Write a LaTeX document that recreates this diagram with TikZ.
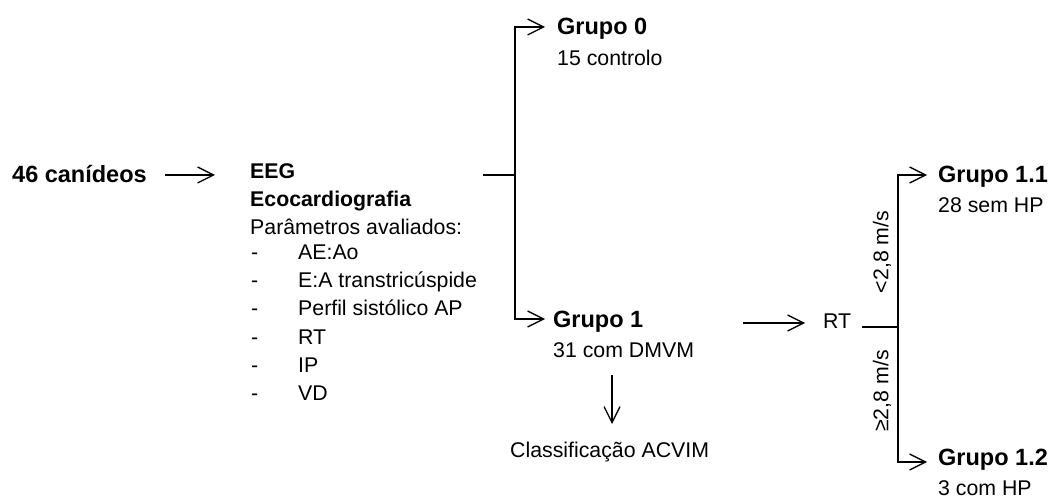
\documentclass[tikz,border=0pt]{standalone}
\usepackage{fontspec}
\setmainfont{Liberation Sans}
\usetikzlibrary{arrows.meta}
\begin{document}
\begin{tikzpicture}[x=1pt,y=-1pt,
  txt/.style={anchor=base west, inner sep=0pt, font=\fontsize{21.3}{25}\selectfont},
  bld/.style={txt, font=\fontsize{21.3}{25}\selectfont\bfseries},
  big/.style={txt, font=\fontsize{23.5}{28}\selectfont\bfseries},
  rot/.style={inner sep=0pt, rotate=90, font=\fontsize{21.3}{25}\selectfont},
  ln/.style={line width=1.3pt},
  arr/.style={ln, -{Straight Barb[length=16pt,width=16pt,line width=1.3pt]}}]
\useasboundingbox (0,0) rectangle (1051,502);
% texts
\node[big] (can) at (12,183) {46 canídeos};
\node[bld] (eeg) at (250,179) {EEG};
\node[bld] (eco) at (250,207) {Ecocardiografia};
\node[txt] (par) at (250,235) {Parâmetros avaliados:};
\node[txt] (d1) at (251,260) {-};   \node[txt] (p1) at (298,260) {AE:Ao};
\node[txt] (d2) at (251,288) {-};   \node[txt] (p2) at (298,288) {E:A transtricúspide};
\node[txt] (d3) at (251,316) {-};   \node[txt] (p3) at (298,316) {Perfil sistólico AP};
\node[txt] (d4) at (251,344) {-};   \node[txt] (p4) at (298,344) {RT};
\node[txt] (d5) at (251,372.5) {-}; \node[txt] (p5) at (298,372.5) {IP};
\node[txt] (d6) at (251,400.5) {-}; \node[txt] (p6) at (298,400.5) {VD};
\node[big] (g0) at (557,35) {Grupo 0};
\node[txt] (g0b) at (557,66) {15 controlo};
\node[big] (g1) at (553,327) {Grupo 1};
\node[txt] (g1b) at (553,357) {31 com DMVM};
\node[txt] (acv) at (510,457) {Classificação ACVIM};
\node[txt] (rt) at (823,328) {RT};
\node[big] (g11) at (938,183) {Grupo 1.1};
\node[txt] (g11b) at (938,213) {28 sem HP};
\node[big] (g12) at (938,465) {Grupo 1.2};
\node[txt] (g12b) at (938,495) {3 com HP};
\node[rot] (lt) at (882,252) {<2,8 m/s};
\node[rot] (ge) at (882,391) {≥2,8 m/s};
% connector points
\coordinate (a1s) at (165,175); \coordinate (a1e) at (215,175);
\coordinate (b0) at (483,175);  \coordinate (j1) at (515,175);
\coordinate (t0) at (545,27);   \coordinate (t1) at (545,319);
\coordinate (ds) at (612,375);  \coordinate (de) at (612,424);
\coordinate (rs) at (743,323);  \coordinate (re) at (805,323);
\coordinate (q0) at (862,327);  \coordinate (j2) at (898,327);
\coordinate (u0) at (927,175);  \coordinate (u1) at (927,462);
% connectors
\draw[arr] (a1s) -- (a1e);
\draw[ln] (b0) -- (j1);
\draw[arr] (j1) |- (t0);
\draw[arr] (j1) |- (t1);
\draw[arr] (ds) -- (de);
\draw[arr] (rs) -- (re);
\draw[ln] (q0) -- (j2);
\draw[arr] (j2) |- (u0);
\draw[arr] (j2) |- (u1);
\end{tikzpicture}
\end{document}
